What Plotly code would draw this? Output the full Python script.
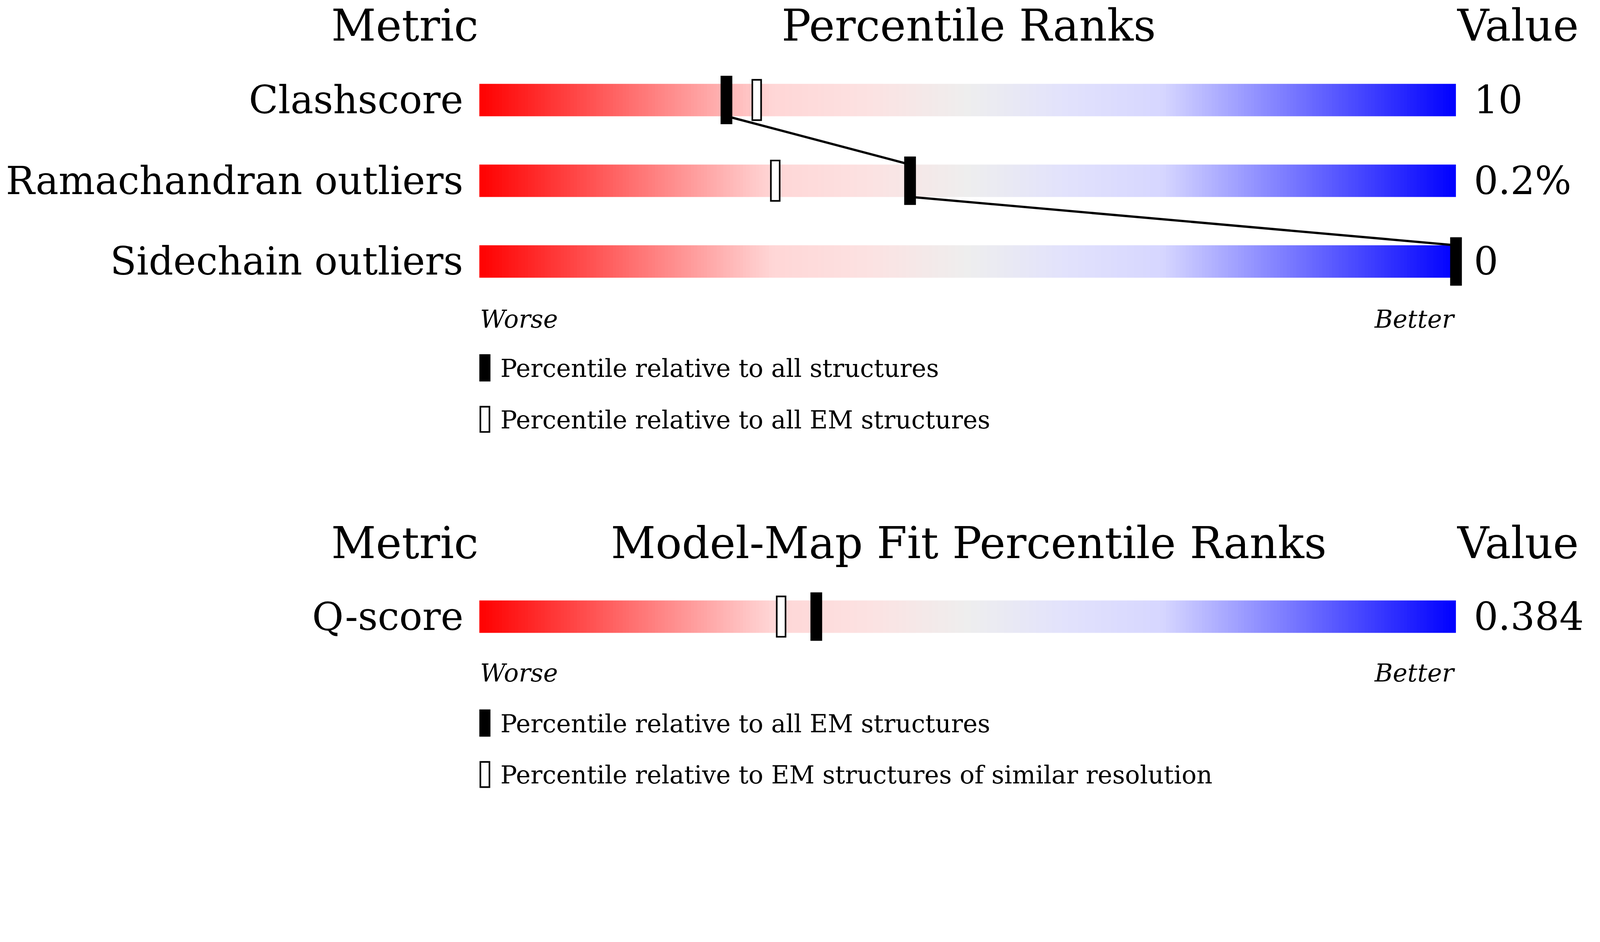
import numpy as np
import plotly.graph_objects as go

metrics = ["Clashscore", "Ramachandran outliers", "Sidechain outliers"]
values = ["10", "0.2%", "0"]
pct_all = [25.3, 44.1, 100.0]
pct_em = [28.4, 30.3, None]

fit_metrics = ["Q-score"]
fit_values = ["0.384"]
fit_all_em = [34.5]
fit_similar = [30.9]

rows_y = [96, 176, 256]
fit_y = [608]
H = 778
W = 1568
DPR = 1.2
FONT = "DejaVu Serif"

scale = [[0, "#ff0000"], [0.3, "#ffd6d6"], [0.4, "#fce2e2"], [0.5, "#eeeeee"],
         [0.6, "#e2e2fc"], [0.7, "#d6d6ff"], [1, "#0000ff"]]

fig = go.Figure()
xe = np.linspace(0, 100, 301)
xc = (xe[:-1] + xe[1:]) / 2
for yc in rows_y + fit_y:
    fig.add_trace(go.Heatmap(x=xe, y=[yc - 16, yc + 16], z=[xc], colorscale=scale,
                             zmin=0, zmax=100, showscale=False, hoverinfo="skip"))

def filled(p, yc):
    fig.add_shape(type="rect", x0=p - 0.6, x1=p + 0.6, y0=yc - 24, y1=yc + 24,
                  fillcolor="black", line=dict(width=0))

def hollow(p, yc):
    fig.add_shape(type="rect", x0=p - 0.45, x1=p + 0.45, y0=yc - 20, y1=yc + 20,
                  fillcolor="white", line=dict(color="black", width=5 / DPR))

for p, yc in zip(pct_all, rows_y):
    filled(p, yc)
for p, yc in zip(pct_em, rows_y):
    if p is not None:
        hollow(p, yc)
for i in range(len(rows_y) - 1):
    fig.add_shape(type="line", x0=pct_all[i], y0=rows_y[i] + 16, x1=pct_all[i + 1],
                  y1=rows_y[i + 1] - 16, line=dict(color="black", width=7 / DPR))
for p, yc in zip(fit_all_em, fit_y):
    filled(p, yc)
for p, yc in zip(fit_similar, fit_y):
    hollow(p, yc)

def px(xp):
    return (xp - 472) / 9.68

def txt(x, y, t, size, anchor="left", italic=False):
    if italic:
        t = "<i>" + t + "</i>"
    fig.add_annotation(x=x, y=y, text=t, showarrow=False, xanchor=anchor, yanchor="middle",
                       font=dict(family=FONT, size=size / DPR, color="black"))

TS, LS, SS = 134, 118, 76
for top, title in [(22, "Percentile Ranks"), (535, "Model-Map Fit Percentile Ranks")]:
    txt(px(398), top, "Metric", TS, "center")
    txt(px(957), top, title, TS, "center")
    txt(px(1440), top, "Value", TS, "left")

for m, v, yc in zip(metrics + fit_metrics, values + fit_values, rows_y + fit_y):
    txt(px(457), yc, m, LS, "right")
    txt(px(1457), yc, v, LS, "left")

for wy in [313, 664]:
    txt(0, wy, "Worse", SS, "left", True)
    txt(100, wy, "Better", SS, "right", True)

legend = [(362, "Percentile relative to all structures", True),
          (413, "Percentile relative to all EM structures", False),
          (714, "Percentile relative to all EM structures", True),
          (765, "Percentile relative to EM structures of similar resolution", False)]
for ly, t, f in legend:
    if f:
        fig.add_shape(type="rect", x0=px(472), x1=px(483), y0=ly - 14, y1=ly + 13,
                      fillcolor="black", line=dict(width=0))
    else:
        fig.add_shape(type="rect", x0=px(473), x1=px(482), y0=ly - 13, y1=ly + 12,
                      fillcolor="white", line=dict(color="black", width=5 / DPR))
    txt(px(492), ly, t, SS, "left")

fig.update_layout(width=round(4860 / DPR), height=round(2412 / DPR),
                  margin=dict(l=0, r=0, t=0, b=0),
                  plot_bgcolor="white", paper_bgcolor="white", showlegend=False)
fig.update_xaxes(range=[px(0), px(W)], visible=False, fixedrange=True)
fig.update_yaxes(range=[H, 0], visible=False, fixedrange=True)
fig.write_html("out.html")
